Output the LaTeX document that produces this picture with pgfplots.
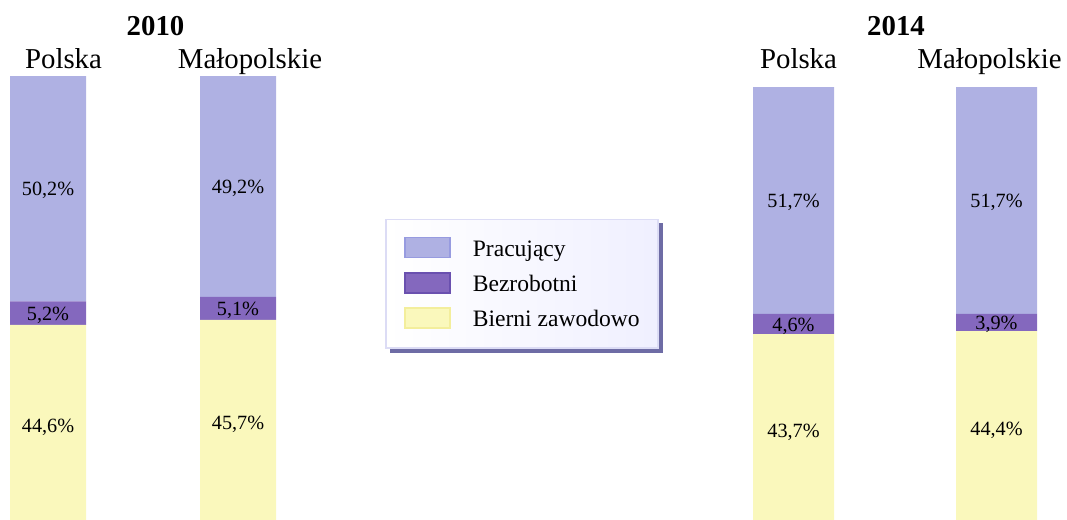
\documentclass[border=0pt]{standalone}
\usepackage{fontspec}
\setmainfont{Liberation Serif}
\usepackage{pgfplots}
\pgfplotsset{compat=1.18}

\definecolor{cPrac}{HTML}{AFB1E3}
\definecolor{cBezr}{HTML}{8468BE}
\definecolor{cBier}{HTML}{FAF8BC}
\definecolor{ePrac}{HTML}{979BE0}
\definecolor{eBezr}{HTML}{6A50AF}
\definecolor{eBier}{HTML}{F3EE9C}
\definecolor{legEdge}{HTML}{DCDCF5}
\definecolor{legShadow}{HTML}{6E6CA5}

\pgfplotsset{
  swatch/.style={legend image code/.code={\draw[##1] (0cm,-0.1cm) rectangle (0.9cm,0.3cm);}},
  barsbase/.style={
    hide axis, clip=false,
    ybar stacked,
    anchor=origin,
    xmin=-0.5, xmax=1.5, ymin=0, ymax=100,
    /pgf/number format/assume math mode=true,
    visualization depends on=rawy \as \rawy,
    nodes near coords={\pgfmathprintnumber[use comma,fixed,fixed zerofill,precision=1]{\rawy}\%},
    nodes near coords style={anchor=center, text=black, yshift=-0.04cm,
      font=\fontsize{11.5}{12}\selectfont},
  },
}

\newcommand\catfont{\fontsize{16.4}{18}\selectfont}

\begin{document}
\begin{tikzpicture}
\useasboundingbox (0,0) rectangle (21.34,10.38);

% 2010
\begin{axis}[barsbase,
    at={(0.96cm,-0.12cm)},
    x=3.8cm, y=0.0898cm, bar width=1.52cm,
    legend cell align=left,
    legend style={at={(1.497,0.537)}, anchor=center, name=leg,
      draw=legEdge, line width=1pt,
      left color=white, right color=blue!6!white,
      inner xsep=0.36cm, inner ysep=0.34cm,
      row sep=0.22cm, column sep=0.44cm,
      nodes={inner sep=0pt, text height=0.7em, text depth=0.25em},
      font=\fontsize{13.4}{15}\selectfont},
]
\addplot[fill=cBier, draw=none, forget plot] coordinates {(0,44.6) (1,45.7)};
\addplot[fill=cBezr, draw=none, forget plot] coordinates {(0,5.2) (1,5.1)};
\addplot[fill=cPrac, draw=none, forget plot] coordinates {(0,50.2) (1,49.2)};
\addlegendimage{swatch, fill=cPrac, draw=ePrac, line width=1pt}
\addlegendentry{Pracujący}
\addlegendimage{swatch, fill=cBezr, draw=eBezr, line width=1pt}
\addlegendentry{Bezrobotni}
\addlegendimage{swatch, fill=cBier, draw=eBier, line width=1pt}
\addlegendentry{Bierni zawodowo}
\end{axis}

% shadow of the legend box (right and bottom strips)
\fill[legShadow] ([yshift=-0.09cm]leg.north east) rectangle ([xshift=0.08cm,yshift=-0.08cm]leg.south east);
\fill[legShadow] ([xshift=0.09cm]leg.south west) rectangle ([xshift=0.08cm,yshift=-0.08cm]leg.south east);

% 2014
\begin{axis}[barsbase,
    at={(15.87cm,-0.14cm)},
    x=4.06cm, y=0.0878cm, bar width=1.62cm,
]
\addplot[fill=cBier, draw=none] coordinates {(0,43.7) (1,44.4)};
\addplot[fill=cBezr, draw=none] coordinates {(0,4.6) (1,3.9)};
\addplot[fill=cPrac, draw=none] coordinates {(0,51.7) (1,51.7)};
\end{axis}

% titles and category names
\node[anchor=base, font=\catfont\bfseries] at (3.11,9.68) {2010};
\node[anchor=base, font=\catfont\bfseries] at (17.92,9.68) {2014};
\node[anchor=base, font=\catfont] at (1.27,9.02) {Polska};
\node[anchor=base, font=\catfont] at (5.00,9.02) {Małopolskie};
\node[anchor=base, font=\catfont] at (15.97,9.02) {Polska};
\node[anchor=base, font=\catfont] at (19.79,9.02) {Małopolskie};
\end{tikzpicture}
\end{document}
